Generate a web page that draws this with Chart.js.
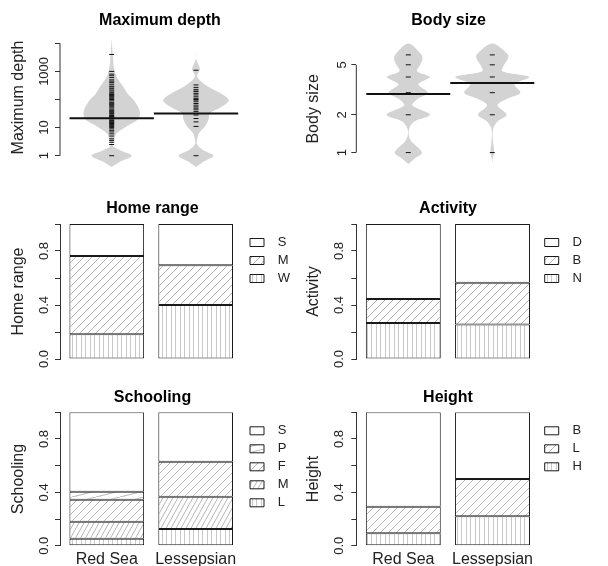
<!DOCTYPE html>
<html>
<head>
<meta charset="utf-8">
<script src="https://cdn.jsdelivr.net/npm/chart.js@4.4.1/dist/chart.umd.min.js"></script>
<style>
  body { margin: 0; background: #fff; }
  #fig { position: relative; width: 608px; height: 566px; overflow: hidden; }
  .panel { position: absolute; width: 304px; height: 189px; }
</style>
</head>
<body>
<div id="fig">
  <div class="panel" style="left:0;top:0"><canvas id="depth" width="304" height="189"></canvas></div>
  <div class="panel" style="left:304px;top:0"><canvas id="body" width="304" height="189"></canvas></div>
  <div class="panel" style="left:0;top:189px"><canvas id="home" width="304" height="189"></canvas></div>
  <div class="panel" style="left:304px;top:189px"><canvas id="activity" width="304" height="189"></canvas></div>
  <div class="panel" style="left:0;top:377px"><canvas id="school" width="304" height="189"></canvas></div>
  <div class="panel" style="left:304px;top:377px"><canvas id="height" width="304" height="189"></canvas></div>
</div>
<script>
var groups = ['Red Sea', 'Lessepsian'];
var groupPos = [1, 2];

// maximum depth (m), one bean line per species value
var depthRedSea = [1, 2.5, 3, 3.5, 4, 5, 6, 7, 8, 9, 10, 11, 12, 13, 14, 15, 16, 17, 18, 20, 22, 24, 25, 27, 30, 32, 35,
  38, 40, 45, 50, 55, 60, 65, 70, 75, 80, 90, 100, 110, 120, 130, 140, 150, 160, 180, 200, 220, 250, 280, 300, 350,
  400, 450, 500, 600, 700, 800, 1000, 4000];
var depthLessepsian = [1, 11, 16, 21, 28, 37, 43, 49, 55, 63, 72, 83, 95, 100, 110, 125, 145, 165, 190, 200, 230, 270,
  330, 1100];
var depthMeans = [21.5, 32];
// bean outline: depth levels and relative density
var depthLevels = [0.4, 0.6, 1, 1.6, 2.1, 2.8, 3.6, 6.3, 11, 19, 32, 55, 95, 165, 290, 650, 1200, 2000, 3000, 5800, 13000];
var depthDensRedSea = [0, 0.24, 0.61, 0.24, 0.06, 0.02, 0.06, 0.15, 0.45, 0.79, 0.86, 0.80, 0.67, 0.48, 0.35, 0.15,
  0.08, 0.05, 0.04, 0.02, 0];
var depthDensLessepsian = [0, 0.21, 0.53, 0.21, 0.09, 0.02, 0.03, 0.09, 0.27, 0.38, 0.42, 0.78, 1, 0.76, 0.36, 0.03,
  0.12, 0.05, 0, 0, 0];
var depthTicks = [1, 10, 100, 1000, 10000];
var depthTickLabels = ['1', '10', '', '1000', ''];

// body size class
var bodyRedSea = [1, 2, 3, 4, 5, 6];
var bodyLessepsian = [1, 2, 3, 4, 5, 6];
var bodyMeans = [2.93, 3.59];
var bodyLevels = [0.81, 0.89, 1, 1.23, 1.39, 1.57, 1.77, 2, 2.38, 2.69, 3, 3.5, 4, 4.45, 5, 5.5, 6, 7.4];
var bodyDensRedSea = [0, 0.16, 0.37, 0.08, 0.01, 0.03, 0.16, 0.59, 0.11, 0.27, 0.53, 0.27, 0.58, 0.24, 0.32, 0.38, 0.36, 0];
var bodyDensLessepsian = [0, 0.01, 0.05, 0.02, 0.01, 0.03, 0.14, 0.39, 0.14, 0.41, 0.76, 0.6, 1, 0.27, 0.32, 0.41, 0.43, 0];
var bodyTicks = [1, 2, 5];
var bodyTickLabels = ['1', '2', '5'];

// proportions, bottom category first
var homeCats = ['W', 'M', 'S'];
var homeRedSea = [0.184, 0.579, 0.237];
var homeLessepsian = [0.40, 0.295, 0.305];
var activityCats = ['N', 'B', 'D'];
var activityRedSea = [0.266, 0.179, 0.555];
var activityLessepsian = [0.256, 0.309, 0.435];
var schoolCats = ['L', 'M', 'F', 'P', 'S'];
var schoolRedSea = [0.052, 0.128, 0.165, 0.06, 0.595];
var schoolLessepsian = [0.125, 0.242, 0.263, 0, 0.37];
var heightCats = ['H', 'L', 'B'];
var heightRedSea = [0.093, 0.199, 0.708];
var heightLessepsian = [0.22, 0.28, 0.50];
var propTicks = [0, 0.2, 0.4, 0.6, 0.8, 1];
var propTickLabels = ['0.0', '', '0.4', '', '0.8', ''];

Chart.defaults.font.family = "'Liberation Sans', Arial, Helvetica, sans-serif";
Chart.defaults.color = '#222';
Chart.defaults.animation = false;

// shading like R's density/angle fills
var hatchSpec = {
  vert: {w: 9, h: 9},
  d45: {w: 8, h: 8},
  steep: {w: 5, h: 9},
  shallow: {w: 24, h: 6}
};

function hatch(kind) {
  if (kind === 'none') return '#ffffff';
  var s = hatchSpec[kind];
  var t = document.createElement('canvas');
  t.width = s.w;
  t.height = s.h;
  var g = t.getContext('2d');
  g.fillStyle = '#ffffff';
  g.fillRect(0, 0, s.w, s.h);
  g.strokeStyle = kind === 'vert' ? '#c8c8c8' : '#b8b8b8';
  g.lineWidth = 1;
  g.beginPath();
  if (kind === 'vert') {
    g.moveTo(0.5, 0); g.lineTo(0.5, s.h);
    g.moveTo(4.5, 0); g.lineTo(4.5, s.h);
  } else {
    for (var k = 0; k <= 2; k++) {
      g.moveTo(k * s.w, 0);
      g.lineTo((k - 1) * s.w, s.h);
    }
  }
  g.stroke();
  return g.createPattern(t, 'repeat');
}

function titleOpts(text, mid, top) {
  return {
    display: true, text: text, fullSize: false, color: '#000',
    font: {size: 16, weight: 'bold', lineHeight: 0.75},
    padding: {top: mid - 6, bottom: top - mid - 6}
  };
}

function yAxis(o) {
  return {
    type: o.type, min: o.min, max: o.max, stacked: o.stacked,
    afterFit: function (s) { s.width = o.width; },
    afterBuildTicks: function (s) {
      s.ticks = o.ticks.map(function (v) { return {value: v}; });
    },
    ticks: {
      autoSkip: false, minRotation: 90, maxRotation: 90, crossAlign: 'center',
      padding: o.tickPad, font: {size: 13}, color: '#222',
      callback: function (v, i) { return o.labels[i]; }
    },
    grid: {drawOnChartArea: false, tickLength: 5, color: '#333'},
    border: {display: o.border, color: '#333'},
    title: {display: true, text: o.title, font: {size: 16}, color: '#222', padding: {top: o.titlePad, bottom: 0}}
  };
}

function beanOutline(center, levels, dens, halfWidth) {
  var right = levels.map(function (v, i) { return {x: center + dens[i] * halfWidth, y: v}; });
  var left = levels.map(function (v, i) { return {x: center - dens[i] * halfWidth, y: v}; }).reverse();
  return right.concat(left.slice(1, -1));
}

function beanChart(id, o) {
  var sets = [];
  o.dens.forEach(function (d, g) {
    sets.push({
      data: beanOutline(groupPos[g], o.levels, d, o.halfWidth),
      showLine: true, fill: 'shape', backgroundColor: '#d3d3d3', borderWidth: 0,
      pointRadius: 0, tension: 0.3, clip: false, order: 3
    });
  });
  o.obs.forEach(function (vals, g) {
    sets.push({
      data: vals.map(function (v) { return {x: groupPos[g], y: v}; }),
      pointStyle: 'line', pointRadius: 2.5, pointBorderColor: '#111', pointBorderWidth: 1,
      clip: false, order: 2
    });
  });
  o.means.forEach(function (m, g) {
    sets.push({
      data: [{x: groupPos[g] - 0.5, y: m}, {x: groupPos[g] + 0.5, y: m}],
      showLine: true, borderColor: '#111', borderWidth: 2, pointRadius: 0, clip: false, order: 1
    });
  });
  // axis line only spans the tick range, like R
  sets.push({
    data: [{x: o.xRange[0], y: o.ticks[0]}, {x: o.xRange[0], y: o.ticks[o.ticks.length - 1]}],
    showLine: true, borderColor: '#333', borderWidth: 1, pointRadius: 0, clip: false, order: 0
  });

  new Chart(document.getElementById(id), {
    type: 'scatter',
    data: {datasets: sets},
    options: {
      responsive: false, events: [],
      layout: {padding: {left: 0, right: o.padRight, top: 0, bottom: o.padBottom}},
      plugins: {
        legend: {display: false},
        tooltip: {enabled: false},
        title: titleOpts(o.title, o.titleMid, o.top)
      },
      scales: {
        x: {type: 'linear', display: false, min: o.xRange[0], max: o.xRange[1]},
        y: yAxis({
          type: 'logarithmic', min: o.yRange[0], max: o.yRange[1], width: o.axisWidth,
          ticks: o.ticks, labels: o.tickLabels, tickPad: o.tickPad, border: false,
          title: o.title, titlePad: o.titlePad
        })
      }
    }
  });
}

function barChart(id, o) {
  var sets = o.cats.map(function (c, i) {
    return {
      label: c,
      data: [{x: groupPos[0], y: o.redSea[i]}, {x: groupPos[1], y: o.lessepsian[i]}],
      backgroundColor: hatch(o.fills[i]),
      borderColor: '#1a1a1a', borderWidth: 1, borderSkipped: false,
      barPercentage: 0.84, categoryPercentage: 1
    };
  });

  new Chart(document.getElementById(id), {
    type: 'bar',
    data: {datasets: sets},
    options: {
      responsive: false, events: [],
      layout: {padding: {left: 0, right: 0, top: 0, bottom: o.showGroups ? 0 : 19}},
      plugins: {
        tooltip: {enabled: false},
        title: titleOpts(o.title, o.titleMid, o.top),
        legend: {
          position: 'right', align: 'start', fullSize: false, reverse: true, maxWidth: o.legendWidth,
          title: {display: true, text: '', font: {size: 7, lineHeight: 1}, padding: 0},
          labels: {
            boxWidth: 14, boxHeight: 8, padding: 5, color: '#222', font: {size: 13},
            generateLabels: function (chart) {
              return Chart.defaults.plugins.legend.labels.generateLabels(chart).map(function (l) {
                l.text = '  ' + l.text + '          ';
                return l;
              });
            }
          }
        }
      },
      scales: {
        x: {
          type: 'linear', stacked: true, offset: false, display: o.showGroups,
          min: o.xRange[0], max: o.xRange[1],
          afterBuildTicks: function (s) {
            s.ticks = groupPos.map(function (v) { return {value: v}; });
          },
          afterFit: function (s) { if (o.showGroups) s.height = 20.3; },
          ticks: {
            padding: 4, maxRotation: 0, font: {size: 16}, color: '#222',
            callback: function (v) { return groups[groupPos.indexOf(v)]; }
          },
          grid: {display: false, drawTicks: false, offset: false},
          border: {display: false}
        },
        y: yAxis({
          type: 'linear', min: 0, max: 1, stacked: true, width: o.axisWidth,
          ticks: propTicks, labels: propTickLabels, tickPad: o.tickPad, border: true,
          title: o.title, titlePad: o.titlePad
        })
      }
    }
  });
}

beanChart('depth', {
  title: 'Maximum depth', levels: depthLevels, dens: [depthDensRedSea, depthDensLessepsian],
  obs: [depthRedSea, depthLessepsian], means: depthMeans, halfWidth: 0.39,
  ticks: depthTicks, tickLabels: depthTickLabels, yRange: [0.356, 39000], xRange: [0.387, 2.759],
  axisWidth: 60, tickPad: -4, titlePad: 9.2, padRight: 44, padBottom: 20.7, titleMid: 20.5, top: 26.7
});

beanChart('body', {
  title: 'Body size', levels: bodyLevels, dens: [bodyDensRedSea, bodyDensLessepsian],
  obs: [bodyRedSea, bodyLessepsian], means: bodyMeans, halfWidth: 0.44,
  ticks: bodyTicks, tickLabels: bodyTickLabels, yRange: [0.653, 7.6], xRange: [0.381, 2.58],
  axisWidth: 52.3, tickPad: 5.4, titlePad: 0.2, padRight: 67, padBottom: 10.3, titleMid: 20.5, top: 42
});

barChart('home', {
  title: 'Home range', cats: homeCats, redSea: homeRedSea, lessepsian: homeLessepsian,
  fills: ['vert', 'd45', 'none'], xRange: [0.474, 2.555], axisWidth: 60, tickPad: 2, titlePad: 9.2,
  legendWidth: 59, showGroups: false, titleMid: 19.5, top: 35
});

barChart('activity', {
  title: 'Activity', cats: activityCats, redSea: activityRedSea, lessepsian: activityLessepsian,
  fills: ['vert', 'd45', 'none'], xRange: [0.473, 2.529], axisWidth: 52.3, tickPad: 2.4, titlePad: 0.2,
  legendWidth: 68.3, showGroups: false, titleMid: 19.5, top: 35
});

barChart('school', {
  title: 'Schooling', cats: schoolCats, redSea: schoolRedSea, lessepsian: schoolLessepsian,
  fills: ['vert', 'steep', 'd45', 'shallow', 'none'], xRange: [0.474, 2.555], axisWidth: 60, tickPad: 2,
  titlePad: 9.2, legendWidth: 59, showGroups: true, titleMid: 20.2, top: 35.3
});

barChart('height', {
  title: 'Height', cats: heightCats, redSea: heightRedSea, lessepsian: heightLessepsian,
  fills: ['vert', 'd45', 'none'], xRange: [0.473, 2.529], axisWidth: 52.3, tickPad: 2.4, titlePad: 0.2,
  legendWidth: 68.3, showGroups: true, titleMid: 20.2, top: 35.3
});
</script>
</body>
</html>
